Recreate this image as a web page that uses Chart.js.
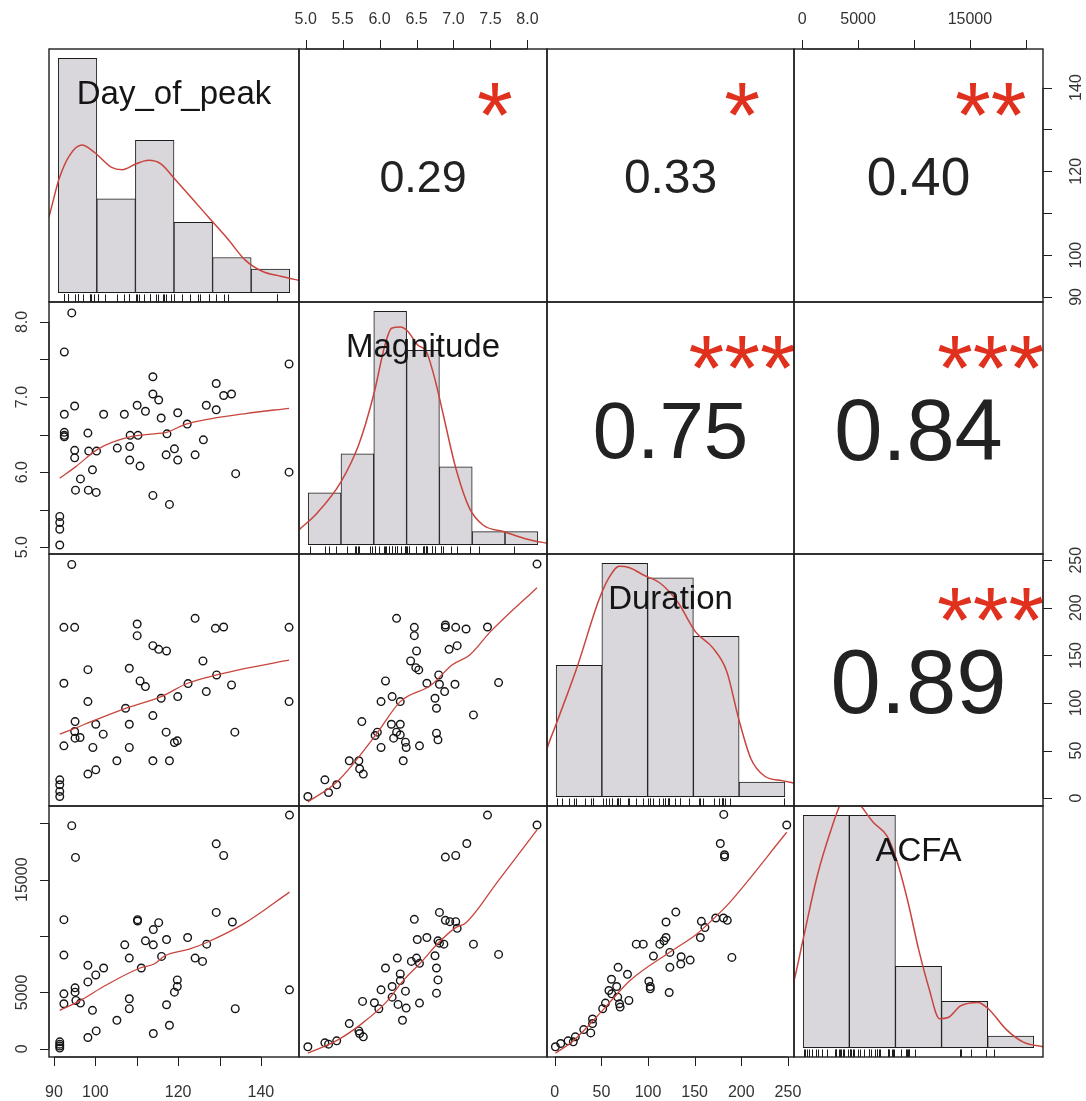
<!DOCTYPE html>
<html>
<head>
<meta charset="utf-8">
<script src="https://cdn.jsdelivr.net/npm/chart.js@4.4.1/dist/chart.umd.min.js"></script>
<style>
  html, body { margin: 0; padding: 0; background: #fff; overflow: hidden; }
  #wrap { position: relative; width: 1086px; height: 1101px; background: #fff; overflow: hidden; }
  #wrap canvas { position: absolute; }
</style>
</head>
<body>
<div id="wrap"></div>
<script>
// ---- axis limits (value range shown by each panel) and ticks ----
const dayLimits = [88.8, 149.2];
const magLimits = [4.91, 8.265];
const durLimits = [-8.3, 256.5];
const acfaLimits = [-730, 21540];

const dayTicks = [90, 100, 110, 120, 130, 140];
const dayTickLabels = ['90', '100', '', '120', '', '140'];
const magTicks = [5.0, 5.5, 6.0, 6.5, 7.0, 7.5, 8.0];
const magTopLabels = ['5.0', '5.5', '6.0', '6.5', '7.0', '7.5', '8.0'];
const magSideLabels = ['5.0', '', '6.0', '', '7.0', '', '8.0'];
const durTicks = [0, 50, 100, 150, 200, 250];
const durTickLabels = ['0', '50', '100', '150', '200', '250'];
const acfaTicks = [0, 5000, 10000, 15000, 20000];
const acfaTickLabels = ['0', '5000', '', '15000', ''];

// ---- histograms (breaks, counts) and density curves (in count units) ----
const dayBreaks = [90, 100, 110, 120, 130, 140, 150];
const dayCounts = [20, 8, 13, 6, 3, 2];
const dayDensity = [[86.5,5.6],[87.5,6.4],[90.2,9.7],[92.9,11.7],[96.1,12.6],[99.3,12.0],[103.8,10.7],[106.6,10.5],[110.2,11.0],[113.4,11.3],[116.6,11.0],[120.2,9.7],[124.8,8.0],[129.3,6.3],[133.9,4.6],[138.4,2.8],[143.0,1.8],[147.6,1.4],[153.0,1.0]];

const magBreaks = [5.0, 5.5, 6.0, 6.5, 7.0, 7.5, 8.0, 8.5];
const magCounts = [4, 7, 18, 15, 6, 1, 1];
const magDensity = [[4.80,0.9],[4.88,1.24],[5.13,2.4],[5.50,4.85],[5.77,7.7],[6.00,11.6],[6.17,15.4],[6.27,16.7],[6.41,16.8],[6.51,16.5],[6.67,15.4],[6.80,14.9],[6.93,12.8],[7.06,10.0],[7.25,5.9],[7.46,2.8],[7.67,1.5],[7.99,1.0],[8.31,0.46],[8.70,0.05]];

const durBreaks = [0, 50, 100, 150, 200, 250];
const durCounts = [9, 16, 15, 11, 1];
const durDensity = [[-12,2.8],[-10.6,3.16],[0.8,5.1],[23.5,9.0],[46.2,13.4],[57.6,15.0],[69.0,15.8],[80.3,15.7],[95.5,15.2],[114.5,14.6],[133.4,13.3],[152.4,11.3],[171.3,10.2],[186.4,8.6],[199.7,5.3],[212.9,2.6],[228.0,1.4],[247.0,1.1],[262,0.9]];

const acfaBreaks = [0, 5000, 10000, 15000, 20000, 25000];
const acfaCounts = [20, 20, 7, 4, 1];
const acfaDensity = [[-1500,4.6],[-1131,5.35],[0,9.36],[1523,14.8],[3035,18.8],[4200,21.2],[5200,21.6],[6060,21.0],[7583,19.4],[9095,18.2],[10227,15.9],[11371,12.5],[12501,8.5],[13643,5.1],[14775,2.5],[15720,2.6],[17048,3.6],[18941,3.9],[20073,3.35],[21975,1.6],[23868,0.48],[26200,0.05]];

// ---- scatter panels [x, y] and smoothers ----
const dayMag = [[94.3,8.12],[92.5,7.60],[146.8,7.44],[113.9,7.27],[129.2,7.18],[113.9,7.04],[115.3,6.96],[131.0,7.02],[132.9,7.04],[95.0,6.88],[110.1,6.89],[112.1,6.81],[126.8,6.89],[129.2,6.83],[92.5,6.77],[102.0,6.77],[107.0,6.77],[115.9,6.72],[119.9,6.79],[122.2,6.64],[92.5,6.53],[92.5,6.49],[92.5,6.47],[98.2,6.52],[108.4,6.49],[110.3,6.49],[117.3,6.51],[126.1,6.43],[95.0,6.29],[95.0,6.19],[98.4,6.28],[100.3,6.28],[105.3,6.32],[108.3,6.34],[108.3,6.16],[110.8,6.08],[119.1,6.31],[117.1,6.23],[119.9,6.16],[124.1,6.23],[99.3,6.03],[96.4,5.91],[133.9,5.98],[146.8,6.00],[95.2,5.76],[98.3,5.76],[100.2,5.73],[113.9,5.69],[117.9,5.57],[91.4,5.41],[91.4,5.33],[91.4,5.24],[91.4,5.03]];
const dayMagSmooth = [[91.4,5.92],[95.2,6.07],[100.7,6.31],[108.3,6.47],[114.2,6.51],[117.2,6.53],[121.9,6.64],[127.8,6.71],[136.3,6.78],[146.8,6.85]];

const dayDur = [[94.3,245.5],[92.4,179.4],[95.0,179.4],[110.1,182.9],[110.1,170.7],[124.1,188.9],[129.0,178.4],[131.0,179.8],[146.8,179.4],[113.9,160.2],[115.3,156.3],[117.2,154.6],[126.0,144.1],[98.2,135.0],[108.2,136.4],[110.8,123.1],[112.1,117.2],[92.4,120.7],[122.4,120.3],[129.3,129.4],[132.9,118.9],[126.8,111.9],[98.2,101.4],[115.9,104.9],[119.9,106.7],[107.3,94.4],[146.8,101.4],[113.9,86.7],[95.1,80.4],[100.1,77.6],[108.2,77.6],[95.0,70.0],[95.1,63.0],[96.3,63.7],[101.9,67.2],[117.1,69.3],[133.7,69.3],[92.4,54.9],[99.4,53.2],[108.2,53.2],[119.1,58.4],[119.8,60.2],[105.2,39.2],[113.9,39.2],[117.9,39.2],[98.2,25.2],[100.1,29.7],[91.4,19.2],[91.4,14.0],[91.4,7.0],[91.4,1.7]];
const dayDurSmooth = [[91.4,67.2],[95.2,73.5],[99.0,80.4],[107.3,94.4],[115.9,106.7],[122.3,120.7],[129.3,129.4],[136.3,136.4],[146.8,145.0]];

const dayAcfa = [[146.9,20735],[94.3,19795],[95.2,16976],[129.2,18180],[131.0,17152],[92.4,11454],[110.2,11454],[110.2,11337],[129.2,12100],[133.1,11249],[114.0,10573],[115.3,11190],[112.1,9575],[114.0,9222],[117.2,9692],[122.3,9868],[107.1,9222],[126.9,9281],[92.4,8312],[108.2,8047],[116.0,8194],[124.1,8047],[125.9,7754],[111.1,7166],[98.2,7401],[102.0,7166],[100.1,6550],[98.2,5933],[119.8,6109],[119.8,5522],[119.1,5022],[146.9,5228],[95.1,5404],[95.1,5022],[92.4,4875],[95.3,4288],[92.4,3994],[96.4,4053],[108.2,4435],[108.2,3554],[117.2,3906],[133.8,3554],[99.3,3407],[105.2,2526],[117.9,2085],[100.2,1586],[98.2,999],[114.0,1351],[91.4,617],[91.4,411],[91.4,235],[91.4,59]];
const dayAcfaSmooth = [[91.4,3407],[96.4,4288],[102.4,5610],[110.8,7166],[114.2,7519],[116.8,8253],[122.7,8840],[126.9,9428],[136.3,11190],[146.9,13900]];

const magDur = [[8.13,245.9],[6.23,188.9],[6.47,179.4],[6.47,170.7],[6.89,181.9],[6.89,179.4],[7.03,179.4],[7.17,177.7],[7.46,179.8],[6.50,154.6],[6.94,156.3],[7.05,160.2],[6.42,144.1],[6.49,137.1],[6.53,134.7],[6.08,123.1],[6.64,120.7],[6.80,129.4],[6.81,119.6],[7.02,119.6],[7.61,121.4],[6.88,111.9],[6.75,104.9],[6.17,106.7],[6.02,101.4],[6.28,101.4],[6.77,94.4],[5.76,80.4],[6.16,77.6],[6.28,77.6],[7.27,87.4],[5.97,69.3],[5.94,65.8],[6.23,69.3],[6.28,66.5],[6.19,63.0],[6.35,58.8],[6.36,53.2],[6.02,53.2],[6.54,54.9],[6.77,68.2],[6.79,61.2],[6.32,39.2],[5.59,39.2],[5.72,39.2],[5.73,30.8],[5.78,25.2],[5.26,19.2],[5.42,14.0],[5.31,5.9],[5.03,1.7]];
const magDurSmooth = [[5.03,-4],[5.43,17.5],[5.95,66.5],[6.28,101.4],[6.70,118.9],[6.98,139.9],[7.22,150.4],[7.50,174.9],[8.13,221.1]];

const magAcfa = [[7.46,20735],[8.13,19854],[7.18,18209],[6.89,17005],[7.03,17152],[6.81,12100],[6.89,11396],[6.95,11278],[7.03,11278],[6.47,11484],[7.05,10691],[7.61,8370],[7.27,9281],[6.51,9692],[6.64,9868],[6.79,9575],[6.81,9369],[6.87,9281],[6.75,8253],[6.77,7166],[6.79,6109],[6.77,4934],[6.24,8047],[6.43,7754],[6.50,8047],[6.54,7577],[6.08,7166],[6.28,6638],[6.28,6050],[6.17,5522],[6.02,5228],[6.35,5110],[6.17,4582],[6.25,3936],[6.36,3612],[6.54,4053],[5.93,4082],[5.99,3554],[5.77,4200],[6.31,2526],[5.59,2232],[5.72,1586],[5.73,1351],[5.78,1057],[5.26,529],[5.31,411],[5.42,705],[5.03,176]];
const magAcfaSmooth = [[5.03,-400],[5.43,764],[5.76,2232],[6.09,4141],[6.32,6050],[6.56,7665],[6.80,9428],[7.03,10750],[7.17,11190],[7.60,14860],[8.13,19414]];

const durAcfa = [[181.2,20794],[248.7,19854],[177.5,18209],[182.0,17211],[182.0,17035],[129.8,12130],[119.3,11249],[157.2,11308],[161.0,10750],[172.6,11601],[180.9,11601],[185.0,11396],[156.1,9868],[87.4,9281],[94.9,9281],[112.6,9281],[117.1,9575],[119.3,9868],[123.4,8547],[105.8,8224],[135.5,8165],[135.1,7519],[145.2,7871],[123.4,7225],[189.9,8106],[67.9,7225],[78.0,6608],[60.8,6168],[100.9,5992],[102.4,5522],[102.4,5316],[122.7,4993],[58.1,5169],[61.1,4875],[67.5,4582],[66.4,5522],[54.4,4053],[69.4,3994],[70.1,3700],[79.5,4288],[51.4,3554],[40.5,2643],[40.5,2232],[38.6,1410],[31.1,1703],[22.1,1057],[19.9,617],[14.3,705],[6.4,470],[0.7,176]];
const durAcfaSmooth = [[0.7,-400],[20.6,764],[54.4,3700],[80.7,6050],[125.7,8694],[152.0,10162],[170.7,11572],[185.7,12806],[248.7,19208]];

// ---- correlations (upper panels, row-major) ----
const corrValues = [0.29, 0.33, 0.40, 0.75, 0.84, 0.89];
const corrStars = ['*', '*', '**', '***', '***', '***'];

// ---- layout ----
const colEdges = [49, 299, 547, 794, 1043];
const rowEdges = [49, 302, 554, 806, 1057];
const M = 48;
const FONT = '"Liberation Sans", Arial, Helvetica, sans-serif';
const INK = '#1e1e1e';
const RED = '#c8453d';
const STAR_RED = '#e0301e';
const BAR_FILL = '#d9d6dc';

const variables = [
  { name: 'Day_of_peak', lim: dayLimits, ticks: dayTicks, hLabels: dayTickLabels, vLabels: dayTickLabels,
    breaks: dayBreaks, counts: dayCounts, density: dayDensity, rug: dayMag.map(p => p[0]) },
  { name: 'Magnitude', lim: magLimits, ticks: magTicks, hLabels: magTopLabels, vLabels: magSideLabels,
    breaks: magBreaks, counts: magCounts, density: magDensity, rug: magDur.map(p => p[0]) },
  { name: 'Duration', lim: durLimits, ticks: durTicks, hLabels: durTickLabels, vLabels: durTickLabels,
    breaks: durBreaks, counts: durCounts, density: durDensity, rug: durAcfa.map(p => p[0]) },
  { name: 'ACFA', lim: acfaLimits, ticks: acfaTicks, hLabels: acfaTickLabels, vLabels: acfaTickLabels,
    breaks: acfaBreaks, counts: acfaCounts, density: acfaDensity, rug: dayAcfa.map(p => p[1]) }
];

const scatterPanels = {
  '1,0': [dayMag, dayMagSmooth], '2,0': [dayDur, dayDurSmooth], '3,0': [dayAcfa, dayAcfaSmooth],
  '2,1': [magDur, magDurSmooth], '3,1': [magAcfa, magAcfaSmooth], '3,2': [durAcfa, durAcfaSmooth]
};

const xy = arr => arr.map(([x, y]) => ({ x, y }));

function drawAxis(ctx, a, ax, scale) {
  const px = ax.ticks.map(v => scale.getPixelForValue(v));
  ctx.save();
  ctx.strokeStyle = INK;
  ctx.lineWidth = 1;
  ctx.fillStyle = '#333';
  ctx.font = '16px ' + FONT;
  ctx.textAlign = 'center';
  ctx.textBaseline = 'alphabetic';
  ctx.beginPath();
  if (ax.side === 'top' || ax.side === 'bottom') {
    const y0 = ax.side === 'top' ? a.top : a.bottom;
    const dir = ax.side === 'top' ? -1 : 1;
    ctx.moveTo(px[0], y0); ctx.lineTo(px[px.length - 1], y0);
    px.forEach(p => { const q = Math.round(p) + 0.5; ctx.moveTo(q, y0); ctx.lineTo(q, y0 + dir * 9); });
    ctx.stroke();
    px.forEach((p, i) => {
      if (ax.labels[i]) ctx.fillText(ax.labels[i], p, ax.side === 'top' ? y0 - 25 : y0 + 40);
    });
  } else {
    const x0 = ax.side === 'left' ? a.left : a.right;
    const dir = ax.side === 'left' ? -1 : 1;
    ctx.moveTo(x0, px[0]); ctx.lineTo(x0, px[px.length - 1]);
    px.forEach(p => { const q = Math.round(p) + 0.5; ctx.moveTo(x0, q); ctx.lineTo(x0 + dir * 9, q); });
    ctx.stroke();
    px.forEach((p, i) => {
      if (!ax.labels[i]) return;
      ctx.save();
      ctx.translate(ax.side === 'left' ? x0 - 22 : x0 + 38, p);
      ctx.rotate(-Math.PI / 2);
      ctx.fillText(ax.labels[i], 0, 0);
      ctx.restore();
    });
  }
  ctx.restore();
}

function drawDecor(chart, spec) {
  const ctx = chart.ctx, a = chart.chartArea;
  const w = a.right - a.left, h = a.bottom - a.top;
  ctx.save();

  if (spec.rug) {
    ctx.strokeStyle = INK;
    ctx.lineWidth = 1;
    ctx.beginPath();
    spec.rug.forEach(v => {
      const p = Math.round(chart.scales.x.getPixelForValue(v)) + 0.5;
      ctx.moveTo(p, a.bottom); ctx.lineTo(p, a.bottom - 0.03 * h);
    });
    ctx.stroke();
  }

  if (spec.label) {
    ctx.font = '33px ' + FONT;
    ctx.fillStyle = '#151515';
    ctx.textAlign = 'center';
    ctx.textBaseline = 'alphabetic';
    ctx.fillText(spec.label, a.left + w / 2, a.top + 0.218 * h);
  }

  if (spec.corr != null) {
    ctx.save();
    ctx.beginPath();
    ctx.rect(a.left, a.top, w, h);
    ctx.clip();
    const fs = 76 * (spec.corr + 0.3);
    ctx.font = fs.toFixed(1) + 'px ' + FONT;
    ctx.fillStyle = '#222';
    ctx.textAlign = 'center';
    ctx.textBaseline = 'alphabetic';
    ctx.fillText(spec.corr.toFixed(2), a.left + w / 2, a.top + h / 2 + 0.37 * fs);
    const sf = 92;
    ctx.font = sf + 'px ' + FONT;
    ctx.fillStyle = STAR_RED;
    ctx.fillText(spec.stars, a.left + 0.79 * w, a.top + 0.205 * h + 0.5 * sf);
    ctx.restore();
  }

  ctx.strokeStyle = INK;
  ctx.lineWidth = 1.4;
  ctx.strokeRect(a.left, a.top, w, h);

  spec.axes.forEach(ax => drawAxis(ctx, a, ax, ax.side === 'top' || ax.side === 'bottom' ? chart.scales.x : chart.scales.y));
  ctx.restore();
}

function baseOptions(xr, yr) {
  return {
    responsive: false,
    animation: false,
    devicePixelRatio: 1,
    events: [],
    layout: { padding: M },
    plugins: { legend: { display: false }, tooltip: { enabled: false } },
    scales: {
      x: { type: 'linear', display: false, min: xr[0], max: xr[1], offset: false },
      y: { type: 'linear', display: false, min: yr[0], max: yr[1] }
    }
  };
}

const wrap = document.getElementById('wrap');
let corrIndex = 0;

for (let r = 0; r < 4; r++) {
  for (let c = 0; c < 4; c++) {
    const left = colEdges[c], top = rowEdges[r];
    const w = colEdges[c + 1] - left, h = rowEdges[r + 1] - top;
    const cv = document.createElement('canvas');
    cv.width = w + 2 * M;
    cv.height = h + 2 * M;
    cv.style.left = (left - M) + 'px';
    cv.style.top = (top - M) + 'px';
    wrap.appendChild(cv);

    const axes = [];
    if (r === 0 && c % 2 === 1) axes.push({ side: 'top', ticks: variables[c].ticks, labels: variables[c].hLabels });
    if (r === 3 && c % 2 === 0) axes.push({ side: 'bottom', ticks: variables[c].ticks, labels: variables[c].hLabels });
    if (c === 0 && r % 2 === 1) axes.push({ side: 'left', ticks: variables[r].ticks, labels: variables[r].vLabels });
    if (c === 3 && r % 2 === 0) axes.push({ side: 'right', ticks: variables[r].ticks, labels: variables[r].vLabels });

    const spec = { axes };
    let config;

    if (r === c) {
      const v = variables[r];
      const b = v.breaks;
      const span = b[b.length - 1] - b[0];
      const cmax = Math.max(...v.counts);
      spec.rug = v.rug;
      spec.label = v.name;
      config = {
        type: 'bar',
        data: {
          datasets: [
            { type: 'line', data: xy(v.density), borderColor: RED, borderWidth: 1.5, pointRadius: 0,
              cubicInterpolationMode: 'monotone', fill: false, clip: 0 },
            { type: 'bar', data: v.counts.map((n, i) => ({ x: (b[i] + b[i + 1]) / 2, y: n })),
              backgroundColor: BAR_FILL, borderColor: INK, borderWidth: 1, borderSkipped: false,
              barPercentage: 1, categoryPercentage: 1 }
          ]
        },
        options: baseOptions([b[0] - 0.04 * span, b[b.length - 1] + 0.04 * span], [-0.04 * cmax, 1.04 * cmax])
      };
    } else if (r > c) {
      const [pts, smooth] = scatterPanels[r + ',' + c];
      config = {
        type: 'scatter',
        data: {
          datasets: [
            { data: xy(smooth), showLine: true, borderColor: RED, borderWidth: 1.3, pointRadius: 0,
              cubicInterpolationMode: 'monotone', fill: false, clip: 0 },
            { data: xy(pts), pointStyle: 'circle', pointRadius: 3.8, borderColor: '#151515', borderWidth: 1.4,
              backgroundColor: 'rgba(0,0,0,0)', clip: 6 }
          ]
        },
        options: baseOptions(variables[c].lim, variables[r].lim)
      };
    } else {
      spec.corr = corrValues[corrIndex];
      spec.stars = corrStars[corrIndex];
      corrIndex++;
      config = {
        type: 'scatter',
        data: { datasets: [{ data: [] }] },
        options: baseOptions(variables[c].lim, variables[r].lim)
      };
    }

    config.plugins = [{ id: 'panelDecor', afterDraw: chart => drawDecor(chart, spec) }];
    new Chart(cv.getContext('2d'), config);
  }
}
</script>
</body>
</html>
